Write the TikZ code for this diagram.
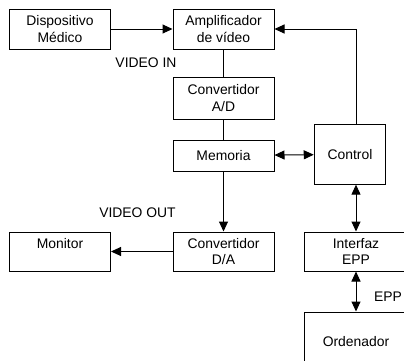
\documentclass[tikz,border=0pt]{standalone}
\usepackage{fontspec}
\setmainfont{Liberation Sans}
\usetikzlibrary{arrows.meta}
\begin{document}
\begin{tikzpicture}[x=1pt,y=-1pt,
  every node/.style={font=\fontsize{13.9}{16.5}\selectfont},
  blk/.style={draw,line width=1pt,inner sep=0pt,align=center,
    minimum width=#1},
  blk/.default=101pt,
  lnk/.style={line width=1pt},
  arr/.style={lnk,-{Triangle[length=10pt,width=9pt]}},
  darr/.style={lnk,{Triangle[length=10pt,width=9pt]}-{Triangle[length=10pt,width=9pt]}},
  lbl/.style={inner sep=0pt}]
\useasboundingbox (0,0) rectangle (404,360);
\clip (0,0) rectangle (404,360);

% processing chain
\node[blk,minimum height=40pt] (disp) at (60,29) {Dispositivo\\Médico};
\node[blk,minimum height=40pt] (amp) at (223.5,29) {Amplificador\\de vídeo};
\node[blk,minimum height=42pt] (ad) at (223.5,98) {Convertidor\\A/D};
\node[blk,minimum height=31pt] (mem) at (223.5,155.5) {Memoria};
\node[blk,minimum height=39pt] (da) at (223.5,251.5) {Convertidor\\D/A};
\node[blk,minimum height=39pt] (mon) at (60,251.5) {Monitor\\\phantom{M}};

% control side
\node[blk=71.5pt,minimum height=59.5pt] (ctrl) at (350,154.4) {Control};
\node[blk=104pt,minimum height=39pt] (iface) at (356,251.5) {Interfaz\\EPP};
\node[blk=104pt,minimum height=60pt] (ord) at (356,342) {Ordenador};

% labels
\node[lbl] (vin) at (146,63) {VIDEO IN};
\node[lbl] (vout) at (137.5,213) {VIDEO OUT};
\node[lbl] (epp) at (388,297) {EPP};

% connectors
\draw[arr] (disp) -- (amp);
\draw[lnk] (amp) -- (ad);
\draw[lnk] (ad) -- (mem);
\draw[arr] (mem) -- (da);
\draw[arr] (da) -- (mon);
\draw[darr] (mem) -- (ctrl);
\draw[arr] (ctrl.north -| iface.north) |- (amp.east);
\draw[darr] (ctrl.south -| iface.north) -- (iface.north);
\draw[darr] (iface) -- (ord);
\end{tikzpicture}
\end{document}
